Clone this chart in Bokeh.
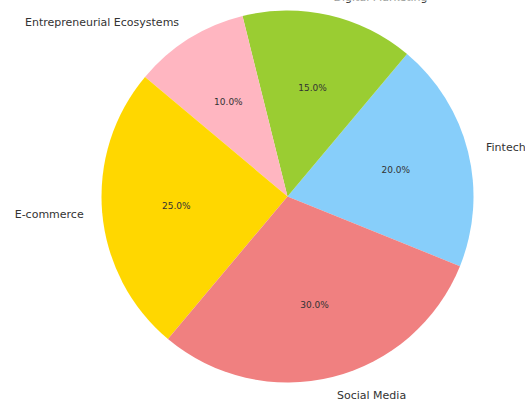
import numpy as np
from bokeh.plotting import figure
from bokeh.models import ColumnDataSource, Range1d
from bokeh.core.properties import value
from bokeh.embed import file_html
from bokeh.resources import INLINE

categories = ["Fintech", "Digital Marketing", "Entrepreneurial Ecosystems", "E-commerce", "Social Media"]
shares = [20.0, 15.0, 10.0, 25.0, 30.0]
colors = ["#87CEFA", "#9ACD32", "#FFB6C1", "#FFD700", "#F08080"]

start_deg = -22.0
vals = np.array(shares)
frac = vals / vals.sum()
ends = np.deg2rad(start_deg) + 2 * np.pi * np.cumsum(frac)
starts = np.concatenate([[np.deg2rad(start_deg)], ends[:-1]])
mids = (starts + ends) / 2

src = ColumnDataSource(dict(
    start=starts, end=ends, color=colors, cat=categories,
    lx=1.1 * np.cos(mids), ly=1.1 * np.sin(mids),
    px=0.6 * np.cos(mids), py=0.6 * np.sin(mids),
    pct=[f"{v:.1f}%" for v in vals],
    align=["left" if np.cos(m) > 0 else "right" for m in mids],
))

scale = 186.0
cx, cy = 287.0, 196.0
W, H = 525, 403
p = figure(width=W, height=H, output_backend="svg", toolbar_location=None,
           x_range=Range1d(-cx / scale, (W - cx) / scale),
           y_range=Range1d(-(H - cy) / scale, cy / scale),
           min_border=0)
p.axis.visible = False
p.grid.visible = False
p.outline_line_color = None
p.background_fill_color = "white"
p.border_fill_color = "white"

p.wedge(x=0, y=0, radius=1.0, start_angle="start", end_angle="end",
        fill_color="color", line_color=None, source=src)

p.text(x="lx", y="ly", text="cat", text_align="align", text_baseline="middle",
       text_font=value("DejaVu Sans"), text_font_size="11px", text_color="#333333",
       source=src)
p.text(x="px", y="py", text="pct", text_align="center", text_baseline="middle",
       text_font=value("DejaVu Sans"), text_font_size="9px", text_color="#333333",
       source=src)

open("out.html", "w").write(file_html(p, INLINE))
